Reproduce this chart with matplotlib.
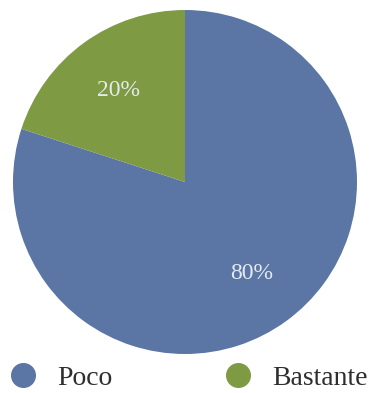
import matplotlib
matplotlib.use("Agg")
import matplotlib.pyplot as plt
from matplotlib.lines import Line2D

categories = ["Poco", "Bastante"]
values = [80, 20]
colors = ["#5b76a5", "#7e9b44"]

plt.rcParams["font.family"] = ["Liberation Serif", "DejaVu Serif"]

W, H = 374, 393
fig = plt.figure(figsize=(W / 100, H / 100), dpi=100)

# pie centre and radius in pixels (from top-left)
cx, cy, r = 185, 182, 172
ax = fig.add_axes([(cx - r) / W, (H - cy - r) / H, 2 * r / W, 2 * r / H])

wedges, texts, autotexts = ax.pie(
    values,
    colors=colors,
    startangle=90,
    counterclock=False,
    autopct="%d%%",
    pctdistance=0.66,
    wedgeprops=dict(linewidth=0),
    textprops=dict(color="#e6eaf0", fontsize=17),
)
ax.set_xlim(-1, 1)
ax.set_ylim(-1, 1)
ax.set_aspect("equal")

handles = [
    Line2D([0], [0], marker="o", linestyle="none", markersize=17,
           markerfacecolor=c, markeredgecolor=c)
    for c in colors
]
fig.legend(
    handles, categories,
    loc="center left", bbox_to_anchor=(-0.043, (H - 378) / H),
    ncol=2, frameon=False, fontsize=20,
    handletextpad=0.75, columnspacing=4.0, handlelength=1.0,
    labelcolor="#2e2e2e",
)

fig.savefig("out.png", dpi=100)
